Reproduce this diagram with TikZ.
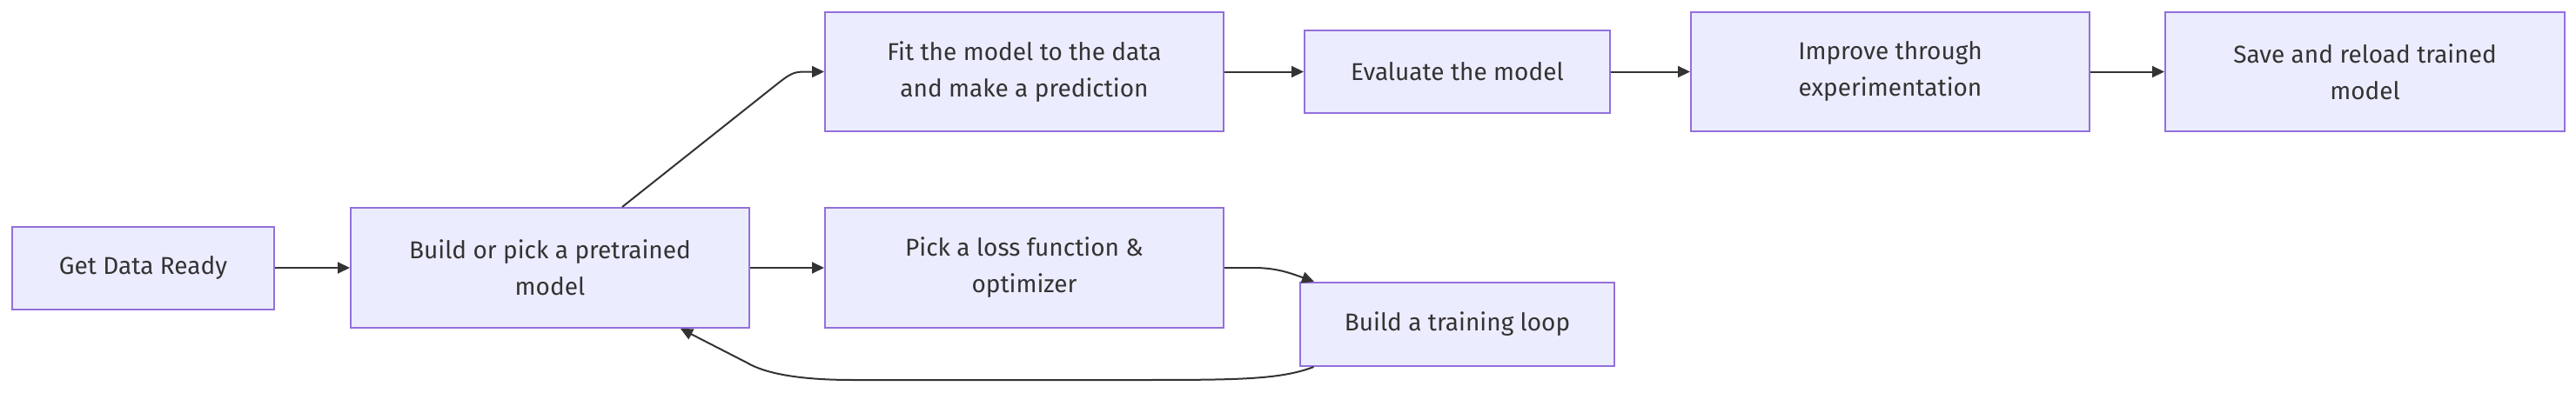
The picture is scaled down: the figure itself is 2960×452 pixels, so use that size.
\documentclass[tikz,border=0pt]{standalone}
\usepackage{fontspec}
\setmainfont{Fira Sans}
\usetikzlibrary{arrows.meta}
\definecolor{nodefill}{HTML}{ECECFF}
\definecolor{nodeline}{HTML}{9370DB}
\definecolor{edgecol}{HTML}{333333}
\definecolor{txt}{HTML}{333333}
\tikzset{
  box/.style={draw=nodeline, fill=nodefill, line width=2pt, rectangle, inner sep=0pt,
    text=txt, align=center, font=\fontsize{28}{42}\selectfont},
  edge/.style={draw=edgecol, line width=2pt, -{Triangle[length=14pt,width=13pt]}},
}
\begin{document}
\begin{tikzpicture}[x=1pt,y=-1pt]
\useasboundingbox (0,0) rectangle (2960,452);
\node[box, minimum width=301pt, minimum height=95pt] (get) at (164.5,308) {Get Data Ready};
\node[box, minimum width=458pt, minimum height=138pt] (build) at (632,308) {Build or pick a pretrained\\model};
\node[box, minimum width=458pt, minimum height=137pt] (fit) at (1177,82.5) {Fit the model to the data\\and make a prediction};
\node[box, minimum width=351pt, minimum height=95pt] (eval) at (1674.5,82.5) {Evaluate the model};
\node[box, minimum width=458pt, minimum height=138pt] (loss) at (1177,308) {Pick a loss function \&\\optimizer};
\node[box, minimum width=361pt, minimum height=96pt] (loop) at (1674.5,373) {Build a training loop};
\node[box, minimum width=458pt, minimum height=137pt] (improve) at (2172,82.5) {Improve through\\experimentation};
\node[box, minimum width=459pt, minimum height=137pt] (save) at (2717.5,82.5) {Save and reload trained\\model};

\draw[edge] (get.east) -- (build.west);
\draw[edge] (build.east) -- (loss.west);
\draw[edge] ([xshift=83pt]build.north) -- (895,95) .. controls (908,85) and (912,82.5) .. (925,82.5) -- (fit.west);
\draw[edge] (fit.east) -- (eval.west);
\draw[edge] (eval.east) -- (improve.west);
\draw[edge] (improve.east) -- (save.west);
\draw[edge] (loss.east) -- (1440,308) .. controls (1465,308) and (1480,313) .. ([xshift=-164.5pt]loop.north);
\draw[edge] ([xshift=-165pt]loop.south) .. controls (1470,437) and (1420,437) .. (1300,437) -- (980,437) .. controls (920,437) and (880,430) .. (858,417) -- ([xshift=150pt]build.south);
\end{tikzpicture}
\end{document}
